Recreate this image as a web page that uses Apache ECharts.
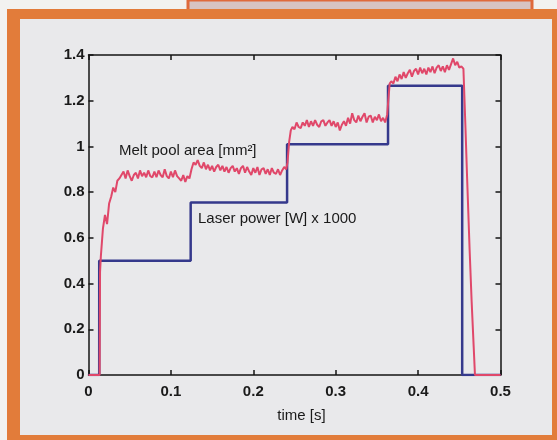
<!DOCTYPE html>
<html>
<head>
<meta charset="utf-8">
<script src="https://cdn.jsdelivr.net/npm/echarts@6/dist/echarts.min.js"></script>
<style>
  html, body { margin: 0; padding: 0; background: #f2f2f0; }
  #chart { width: 557px; height: 440px; }
</style>
</head>
<body>
<div id="chart"></div>
<script>
// tick labels
const xTicks = [0, 0.1, 0.2, 0.3, 0.4, 0.5]
const yTicks = [0, 0.2, 0.4, 0.6, 0.8, 1, 1.2, 1.4]

// laser power [W] / 1000 (step corners)
const powerT = [0, 0.013, 0.013, 0.124, 0.124, 0.241, 0.241, 0.3635, 0.3635, 0.4535, 0.4535, 0.5]
const powerV = [0, 0, 0.5, 0.5, 0.755, 0.755, 1.01, 1.01, 1.265, 1.265, 0, 0]

// melt pool area [mm²]
const areaT = [
  0, 0.0135, 0.014, 0.015, 0.0175, 0.02, 0.0225, 0.025, 0.0275, 0.03, 0.0325, 0.035, 0.0375,
  0.04, 0.0425, 0.045, 0.0475, 0.05, 0.0525, 0.055, 0.0575, 0.06, 0.0625, 0.065, 0.0675,
  0.07, 0.0725, 0.075, 0.0775, 0.08, 0.0825, 0.085, 0.0875, 0.09, 0.0925, 0.095, 0.0975,
  0.1, 0.1025, 0.105, 0.1075, 0.11, 0.1125, 0.115, 0.1175, 0.12, 0.1225, 0.125, 0.1275,
  0.13, 0.1325, 0.135, 0.1375, 0.14, 0.1425, 0.145, 0.1475, 0.15, 0.1525, 0.155, 0.1575,
  0.16, 0.1625, 0.165, 0.1675, 0.17, 0.1725, 0.175, 0.1775, 0.18, 0.1825, 0.185, 0.1875,
  0.19, 0.1925, 0.195, 0.1975, 0.2, 0.2025, 0.205, 0.2075, 0.21, 0.2125, 0.215, 0.2175,
  0.22, 0.2225, 0.225, 0.2275, 0.23, 0.2325, 0.235, 0.2375, 0.24, 0.2415, 0.2435, 0.2455, 0.2475,
  0.25, 0.2525, 0.255, 0.2575, 0.26, 0.2625, 0.265, 0.2675, 0.27, 0.2725, 0.275, 0.2775,
  0.28, 0.2825, 0.285, 0.2875, 0.29, 0.2925, 0.295, 0.2975, 0.3, 0.3025, 0.305, 0.3075,
  0.31, 0.3125, 0.315, 0.3175, 0.32, 0.3225, 0.325, 0.3275, 0.33, 0.3325, 0.335, 0.3375,
  0.34, 0.3425, 0.345, 0.3475, 0.35, 0.3525, 0.355, 0.3575, 0.36, 0.3625, 0.3638, 0.3655, 0.3675,
  0.37, 0.3725, 0.375, 0.3775, 0.38, 0.3825, 0.385, 0.3875, 0.39, 0.3925, 0.395, 0.3975,
  0.4, 0.4025, 0.405, 0.4075, 0.41, 0.4125, 0.415, 0.4175, 0.42, 0.4225, 0.425, 0.4275,
  0.43, 0.4325, 0.435, 0.4375, 0.44, 0.4425, 0.445, 0.4475, 0.45, 0.4525, 0.455,
  0.4575, 0.4595, 0.4625, 0.465, 0.4675, 0.469, 0.5
]
const areaV = [
  0, 0, 0.45, 0.52, 0.64, 0.70, 0.66, 0.75, 0.78, 0.82, 0.80, 0.85, 0.86,
  0.875, 0.89, 0.86, 0.895, 0.87, 0.85, 0.875, 0.885, 0.86, 0.895, 0.87, 0.885,
  0.865, 0.895, 0.87, 0.865, 0.89, 0.865, 0.895, 0.875, 0.865, 0.90, 0.87, 0.86,
  0.89, 0.865, 0.895, 0.87, 0.86, 0.85, 0.875, 0.845, 0.87, 0.86, 0.90, 0.93,
  0.92, 0.94, 0.915, 0.905, 0.93, 0.90, 0.92, 0.895, 0.915, 0.89, 0.91, 0.92,
  0.895, 0.915, 0.89, 0.91, 0.885, 0.905, 0.915, 0.89, 0.905, 0.88, 0.905, 0.915,
  0.885, 0.91, 0.89, 0.875, 0.905, 0.885, 0.91, 0.875, 0.90, 0.905, 0.88, 0.90,
  0.875, 0.905, 0.885, 0.88, 0.90, 0.875, 0.895, 0.91, 0.90, 0.93, 1.02, 1.07, 1.085,
  1.075, 1.105, 1.085, 1.08, 1.105, 1.09, 1.115, 1.085, 1.11, 1.09, 1.115, 1.095,
  1.085, 1.11, 1.115, 1.09, 1.105, 1.115, 1.09, 1.11, 1.085, 1.105, 1.07, 1.095,
  1.11, 1.09, 1.125, 1.10, 1.145, 1.115, 1.105, 1.135, 1.11, 1.13, 1.145, 1.105,
  1.13, 1.135, 1.105, 1.13, 1.115, 1.14, 1.11, 1.125, 1.105, 1.14, 1.20, 1.275, 1.285,
  1.275, 1.305, 1.285, 1.315, 1.295, 1.325, 1.30, 1.32, 1.335, 1.305, 1.33, 1.34,
  1.315, 1.345, 1.32, 1.34, 1.315, 1.345, 1.325, 1.35, 1.32, 1.345, 1.355, 1.33,
  1.35, 1.325, 1.355, 1.335, 1.36, 1.385, 1.355, 1.37, 1.345, 1.35, 1.34,
  1.08, 0.86, 0.55, 0.32, 0.12, 0, 0
]

const fontFamily = '"Liberation Sans", Arial, sans-serif'
const axisColor = '#151515'

const chart = echarts.init(document.getElementById('chart'))

const zip = (t, v) => t.map((x, i) => [x, v[i]])

const boxAxis = {
  axisLine: { show: true, onZero: false, lineStyle: { color: axisColor, width: 1.5 } },
  axisTick: { show: true, inside: true, length: 5, lineStyle: { color: axisColor, width: 1.5 } },
  splitLine: { show: false }
}

chart.setOption({
  backgroundColor: '#f2f2f0',
  animation: false,
  graphic: [
    // scanned page frame
    { type: 'rect', z: -10, shape: { x: 188, y: 0, width: 344, height: 12 }, style: { fill: '#d7c3c2', stroke: '#df6a3c', lineWidth: 3 } },
    { type: 'rect', z: -10, shape: { x: 7, y: 9, width: 550, height: 431 }, style: { fill: '#e27c3a' } },
    { type: 'rect', z: -10, shape: { x: 20, y: 19, width: 532, height: 416 }, style: { fill: '#e9e9eb' } },
    {
      type: 'text', left: 119, top: 143,
      style: { text: 'Melt pool area [mm²]', fill: '#1a1a1a', font: '15px ' + fontFamily }
    },
    {
      type: 'text', left: 198, top: 211,
      style: { text: 'Laser power [W] x 1000', fill: '#1a1a1a', font: '15px ' + fontFamily }
    }
  ],
  grid: { left: 88.5, right: 56.5, top: 55, bottom: 65, containLabel: false },
  xAxis: [
    {
      ...boxAxis,
      type: 'value', min: xTicks[0], max: xTicks[xTicks.length - 1], interval: 0.1,
      name: 'time [s]', nameLocation: 'middle', nameGap: 33,
      nameTextStyle: { color: '#1a1a1a', fontSize: 15, fontFamily, padding: [0, 0, 0, 14] },
      axisLabel: { color: '#1a1a1a', fontSize: 15, fontWeight: 'bold', fontFamily, margin: 9,
        formatter: v => String(+v.toFixed(1)) }
    },
    {
      ...boxAxis,
      type: 'value', position: 'top', min: xTicks[0], max: xTicks[xTicks.length - 1], interval: 0.1,
      axisLabel: { show: false }
    }
  ],
  yAxis: [
    {
      ...boxAxis,
      type: 'value', min: yTicks[0], max: yTicks[yTicks.length - 1], interval: 0.2,
      axisLabel: { color: '#1a1a1a', fontSize: 15, fontWeight: 'bold', fontFamily, margin: 4,
        formatter: v => String(+v.toFixed(1)) }
    },
    {
      ...boxAxis,
      type: 'value', position: 'right', min: yTicks[0], max: yTicks[yTicks.length - 1], interval: 0.2,
      axisLabel: { show: false }
    }
  ],
  series: [
    {
      name: 'Melt pool area [mm²]', type: 'line', data: zip(areaT, areaV),
      showSymbol: false, z: 3,
      lineStyle: { color: '#e0486a', width: 2 }
    },
    {
      name: 'Laser power [W] x 1000', type: 'line', data: zip(powerT, powerV),
      showSymbol: false, z: 2,
      lineStyle: { color: '#35398c', width: 2.5 }
    }
  ]
})
</script>
</body>
</html>
